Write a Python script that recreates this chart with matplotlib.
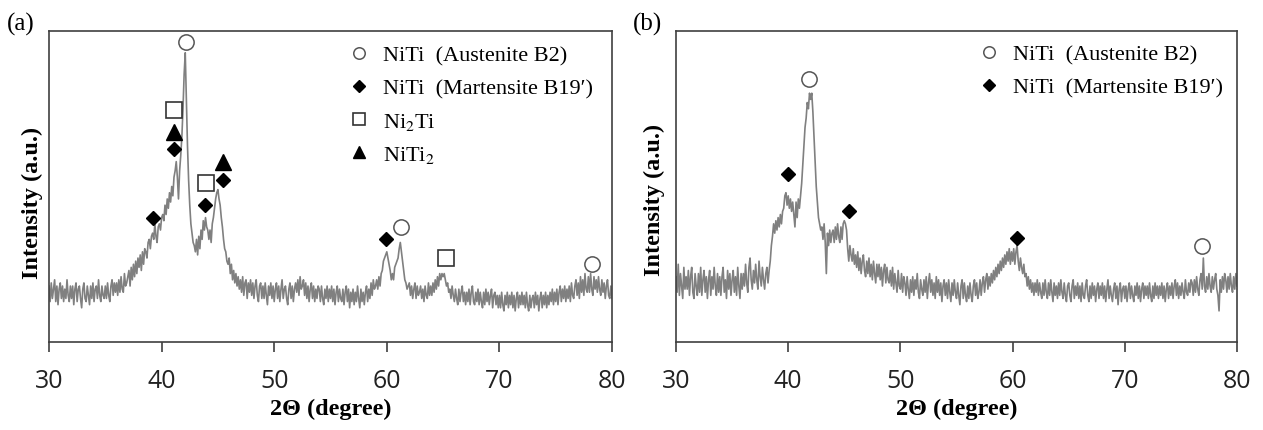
"""
XRD patterns of NiTi samples, panels (a) and (b).
"""

import matplotlib.pyplot as plt
import numpy as np
from matplotlib.lines import Line2D

plt.rcParams["mathtext.fontset"] = "stix"

# Intensity, 0.1 degree steps from 30 to 80 (a.u., 0-100 = axis range)
intensity_a = [
    18, 13, 19, 14, 17, 20, 13, 18, 12, 17,
    19, 14, 18, 13, 17, 14, 20, 15, 13, 18,
    14, 18, 12, 17, 19, 13, 17, 18, 14, 11,
    17, 19, 14, 13, 18, 15, 12, 18, 14, 19,
    13, 17, 18, 14, 20, 15, 13, 18, 15, 14,
    18, 14, 19, 15, 13, 18, 20, 15, 19, 16,
    19, 15, 20, 16, 21, 17, 16, 22, 18, 19,
    21, 23, 18, 24, 20, 25, 21, 26, 22, 27,
    24, 28, 23, 29, 25, 30, 29, 27, 32, 33,
    30, 34, 35, 33, 38, 34, 32, 37, 38, 36,
    40, 41, 39, 44, 41, 46, 43, 48, 45, 50,
    47, 53, 55, 58, 53, 46, 55, 60, 66, 75,
    86, 93, 78, 63, 52, 44, 38, 35, 32, 31,
    29, 33, 28, 34, 30, 36, 33, 39, 36, 40,
    37, 36, 33, 36, 32, 38, 40, 43, 46, 48,
    49, 46, 44, 40, 37, 33, 30, 29, 26, 25,
    27, 22, 25, 20, 23, 19, 22, 18, 21, 17,
    20, 16, 21, 15, 19, 20, 14, 19, 16, 20,
    15, 19, 14, 18, 20, 15, 13, 18, 19, 14,
    18, 14, 19, 15, 12, 18, 15, 19, 14, 18,
    13, 17, 19, 14, 18, 13, 17, 20, 14, 17,
    18, 14, 12, 17, 19, 14, 18, 13, 17, 19,
    16, 20, 15, 21, 17, 18, 20, 15, 19, 14,
    18, 13, 17, 19, 14, 18, 13, 17, 14, 18,
    17, 13, 18, 14, 12, 17, 14, 18, 13, 17,
    14, 18, 13, 17, 12, 16, 18, 13, 17, 14,
    13, 17, 12, 16, 18, 13, 17, 11, 16, 13,
    17, 12, 16, 13, 18, 14, 11, 17, 13, 16,
    12, 16, 18, 13, 17, 14, 19, 15, 20, 17,
    18, 20, 17, 21, 18, 22, 23, 26, 27, 28,
    29, 27, 25, 23, 20, 22, 20, 24, 25, 26,
    27, 30, 32, 29, 26, 23, 20, 19, 17, 18,
    19, 15, 18, 14, 17, 19, 14, 18, 15, 16,
    18, 14, 17, 13, 18, 15, 14, 19, 15, 18,
    15, 19, 16, 20, 17, 21, 18, 22, 20, 22,
    21, 22, 20, 18, 19, 16, 17, 14, 18, 15,
    13, 17, 14, 12, 17, 13, 16, 18, 13, 16,
    12, 16, 13, 17, 12, 16, 18, 13, 12, 16,
    13, 17, 12, 16, 13, 11, 16, 12, 17, 13,
    16, 12, 15, 17, 11, 15, 16, 12, 15, 11,
    15, 11, 16, 12, 10, 15, 12, 16, 11, 15,
    12, 16, 11, 15, 10, 14, 16, 11, 15, 12,
    16, 12, 15, 11, 16, 12, 10, 15, 11, 14,
    15, 11, 16, 12, 15, 10, 14, 16, 11, 15,
    12, 16, 11, 15, 12, 16, 13, 17, 12, 16,
    13, 17, 12, 16, 18, 13, 17, 14, 18, 13,
    17, 14, 18, 13, 19, 15, 14, 18, 20, 15,
    19, 14, 21, 16, 20, 15, 22, 17, 16, 21,
    16, 22, 17, 15, 21, 17, 20, 16, 21, 17,
    15, 20, 16, 19, 14, 18, 20, 15, 14, 18,
    14,
]

intensity_b = [
    21, 16, 25, 15, 22, 18, 14, 24, 17, 21,
    17, 23, 15, 21, 24, 16, 14, 22, 18, 15,
    22, 16, 24, 15, 20, 23, 16, 21, 14, 20,
    23, 15, 21, 17, 24, 18, 15, 22, 16, 21,
    15, 21, 24, 16, 20, 14, 23, 17, 22, 15,
    20, 23, 16, 21, 15, 24, 18, 14, 22, 17,
    22, 18, 25, 19, 16, 24, 27, 20, 17, 23,
    19, 25, 20, 17, 26, 21, 18, 24, 20, 17,
    22, 24, 19, 23, 26, 31, 34, 38, 35, 39,
    36, 40, 37, 41, 38, 42, 43, 47, 48, 44,
    47, 43, 46, 42, 45, 41, 37, 45, 40, 46,
    43, 47, 51, 57, 63, 69, 72, 77, 75, 80,
    78, 80, 74, 66, 58, 50, 45, 40, 38, 36,
    37, 33, 38, 32, 22, 35, 31, 36, 32, 35,
    36, 32, 37, 33, 38, 34, 32, 37, 33, 38,
    39, 38, 36, 30, 26, 31, 28, 26, 30, 25,
    28, 24, 29, 23, 27, 22, 26, 28, 23, 21,
    26, 22, 27, 21, 25, 20, 26, 22, 19, 25,
    21, 25, 20, 24, 18, 23, 25, 19, 24, 20,
    19, 23, 18, 24, 17, 22, 19, 16, 23, 18,
    17, 22, 16, 21, 19, 15, 21, 17, 14, 20,
    16, 21, 15, 20, 17, 22, 16, 14, 20, 17,
    15, 20, 16, 21, 14, 19, 22, 16, 20, 15,
    19, 14, 21, 16, 20, 15, 19, 13, 18, 20,
    15, 19, 14, 20, 16, 13, 19, 15, 20, 16,
    14, 19, 15, 12, 18, 20, 14, 19, 15, 13,
    18, 14, 19, 15, 13, 18, 20, 15, 19, 14,
    16, 20, 15, 19, 21, 16, 20, 22, 17, 21,
    18, 22, 19, 23, 20, 24, 21, 25, 22, 26,
    23, 27, 24, 28, 25, 29, 26, 30, 25, 29,
    26, 30, 25, 29, 31, 26, 23, 27, 24, 22,
    25, 21, 22, 18, 21, 17, 20, 16, 19, 15,
    19, 16, 20, 15, 19, 16, 14, 19, 15, 20,
    16, 14, 19, 15, 20, 16, 13, 19, 15, 18,
    14, 19, 15, 20, 16, 14, 19, 15, 13, 18,
    19, 15, 13, 18, 20, 14, 18, 15, 19, 14,
    18, 13, 19, 15, 14, 18, 20, 15, 13, 18,
    14, 19, 15, 18, 13, 17, 19, 14, 18, 15,
    19, 14, 18, 13, 17, 20, 14, 18, 15, 13,
    17, 19, 14, 18, 12, 17, 19, 13, 17, 18,
    14, 18, 13, 17, 19, 14, 18, 15, 13, 18,
    15, 19, 14, 18, 13, 17, 19, 14, 18, 15,
    18, 14, 19, 15, 13, 18, 14, 19, 15, 18,
    14, 18, 15, 19, 14, 18, 13, 17, 19, 14,
    18, 15, 19, 14, 18, 20, 15, 19, 14, 18,
    15, 19, 16, 14, 20, 16, 15, 19, 16, 20,
    19, 15, 20, 16, 21, 17, 15, 20, 22, 17,
    27, 18, 16, 21, 17, 22, 18, 16, 21, 17,
    20, 22, 17, 15, 10, 20, 16, 21, 17, 22,
    20, 16, 21, 17, 22, 18, 16, 21, 17, 22,
    18,
]

two_theta_a = np.linspace(30, 80, len(intensity_a))
two_theta_b = np.linspace(30, 80, len(intensity_b))

# Phase markers, panel (a)
austenite_a_x = [42.2, 61.3, 78.2]
austenite_a_y = [96.5, 37, 25]
martensite_a_x = [39.2, 41.1, 43.85, 45.45, 59.9]
martensite_a_y = [40, 62, 44, 52, 33]
ni2ti_a_x = [41.1, 43.9, 65.3]
ni2ti_a_y = [74.6, 51, 27]
niti2_a_x = [41.1, 45.45]
niti2_a_y = [67.5, 58]

# Phase markers, panel (b)
austenite_b_x = [41.85, 76.9]
austenite_b_y = [84.6, 31]
martensite_b_x = [40.0, 45.4, 60.4]
martensite_b_y = [54, 42, 33.4]

x_ticks = [30, 40, 50, 60, 70, 80]

serif = ["Liberation Serif", "DejaVu Serif"]
edge = "#404040"

styles = {
    "aus": dict(marker="o", ms=11, mfc="white", mec="#555555", mew=1.1, ls="none"),
    "mar": dict(marker="D", ms=7.5, mfc="black", mec="black", ls="none"),
    "ni2ti": dict(marker="s", ms=12, mfc="white", mec="#333333", mew=1.2, ls="none"),
    "niti2": dict(marker="^", ms=11, mfc="black", mec="black", ls="none"),
}
labels = {
    "aus": "NiTi  (Austenite B2)",
    "mar": "NiTi  (Martensite B19\u2032)",
    "ni2ti": "Ni$_2$Ti",
    "niti2": "NiTi$_2$",
}


def style_axes(ax, ylabel_x, ylabel_y):
    ax.set_xlim(30, 80)
    ax.set_ylim(0, 100)
    ax.set_xticks(x_ticks)
    ax.set_yticks([])
    for s in ax.spines.values():
        s.set_color(edge)
        s.set_linewidth(1.2)
    ax.tick_params(axis="x", direction="out", length=7, width=1.2, color=edge,
                   labelsize=18, pad=12, labelcolor="#222222")
    for t in ax.get_xticklabels():
        t.set_family(["Open Sans", "DejaVu Sans"])
    ax.set_xlabel("2\u0398 (degree)", family=serif, fontsize=17.5, weight="bold", va="center")
    ax.xaxis.set_label_coords(0.5, -0.215)
    ax.set_ylabel("Intensity (a.u.)", family=serif, fontsize=17.5, weight="bold", va="center")
    ax.yaxis.set_label_coords(ylabel_x, ylabel_y)


def add_legend(ax, keys, anchor):
    handles = [Line2D([], [], **styles[k]) for k in keys]
    ax.legend(handles, [labels[k] for k in keys],
              loc="upper left", bbox_to_anchor=anchor, frameon=False,
              prop={"family": serif, "size": 16}, handlelength=1.0, markerscale=0.75,
              handletextpad=0.58, labelspacing=0.55, borderpad=0, borderaxespad=0)


fig = plt.figure(figsize=(12.63, 4.31), dpi=100)
ax_a = fig.add_axes([49 / 1263, 1 - 343 / 431, 563 / 1263, 311 / 431])
ax_b = fig.add_axes([676 / 1263, 1 - 343 / 431, 561 / 1263, 311 / 431])

# Panel (a)
ax_a.plot(two_theta_a, intensity_a, color="#808080", lw=1.2)
ax_a.plot(austenite_a_x, austenite_a_y, **styles["aus"])
ax_a.plot(martensite_a_x, martensite_a_y, **styles["mar"])
ax_a.plot(ni2ti_a_x, ni2ti_a_y, **styles["ni2ti"])
ax_a.plot(niti2_a_x, niti2_a_y, **styles["niti2"])
style_axes(ax_a, -0.030, 0.45)
add_legend(ax_a, ["aus", "mar", "ni2ti", "niti2"], (0.531, 0.955))

# Panel (b)
ax_b.plot(two_theta_b, intensity_b, color="#808080", lw=1.2)
ax_b.plot(austenite_b_x, austenite_b_y, **styles["aus"])
ax_b.plot(martensite_b_x, martensite_b_y, **styles["mar"])
style_axes(ax_b, -0.039, 0.46)
add_legend(ax_b, ["aus", "mar"], (0.538, 0.958))

fig.text(7 / 1263, 1 - 24 / 431, "(a)", family=serif, fontsize=18, va="center")
fig.text(633 / 1263, 1 - 24 / 431, "(b)", family=serif, fontsize=18, va="center")

fig.savefig("out.png", dpi=100)
